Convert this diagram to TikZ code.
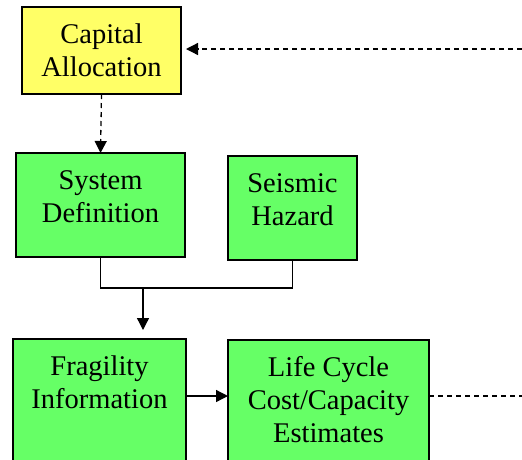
\documentclass[tikz,border=0pt]{standalone}
\usepackage{fontspec}
\setmainfont{Liberation Serif}
\usetikzlibrary{arrows.meta}
\definecolor{boxyellow}{HTML}{FFFF66}
\definecolor{boxgreen}{HTML}{66FF66}
\tikzset{
  box/.style={draw=black, line width=1.5pt, inner sep=0pt, outer sep=0pt},
  lbl/.style={anchor=north, inner sep=0pt, align=center, font=\fontsize{28.5}{33}\selectfont},
  conn/.style={line width=1.3pt, draw=black},
  tip/.style={-{Triangle[length=12pt,width=12pt]}},
  dashline/.style={dash pattern=on 5pt off 4pt}
}
\begin{document}
\begin{tikzpicture}[x=1pt,y=-1pt]
\useasboundingbox (0,0) rectangle (522,459);
% boxes
\node[box, fill=boxyellow, minimum width=159pt, minimum height=87pt] (CA) at (101.5,50.5) {};
\node[box, fill=boxgreen, minimum width=169pt, minimum height=104pt] (SD) at (100.5,205) {};
\node[box, fill=boxgreen, minimum width=129pt, minimum height=104pt] (SH) at (292.5,208) {};
\node[box, fill=boxgreen, minimum width=173pt, minimum height=140pt] (FI) at (99.5,409) {};
\node[box, fill=boxgreen, minimum width=201pt, minimum height=140pt] (LC) at (328.5,410) {};
% labels
\node[lbl] (CAt) at ([yshift=-13.4pt]CA.north) {\strut Capital\\Allocation};
\node[lbl] (SDt) at ([yshift=-13.4pt]SD.north) {\strut System\\Definition};
\node[lbl] (SHt) at ([yshift=-13.4pt]SH.north) {\strut Seismic\\Hazard};
\node[lbl] (FIt) at ([yshift=-13.4pt]FI.north) {\strut Fragility\\Information};
\node[lbl] (LCt) at ([yshift=-13.4pt]LC.north) {\strut Life Cycle\\Cost/Capacity\\Estimates};
% helper coordinates
\coordinate (rin) at (522,49);
\coordinate (rout) at (522,396);
\coordinate (j) at (143,288);
\coordinate (m) at (0,396);
% connectors
\draw[conn, dashline, tip, shorten >=5pt] (rin) -- (CA.east |- rin);
\draw[conn, dashline, tip] (CA.south) -- (SD.north);
\draw[conn] (SD.south) |- (j) -| (SH.south);
\draw[conn, tip, shorten >=9pt] (j) -- (j |- FI.north);
\draw[conn, tip] (FI.east |- m) -- (LC.west |- m);
\draw[conn, dashline] (LC.east |- m) -- (rout);
\end{tikzpicture}
\end{document}
